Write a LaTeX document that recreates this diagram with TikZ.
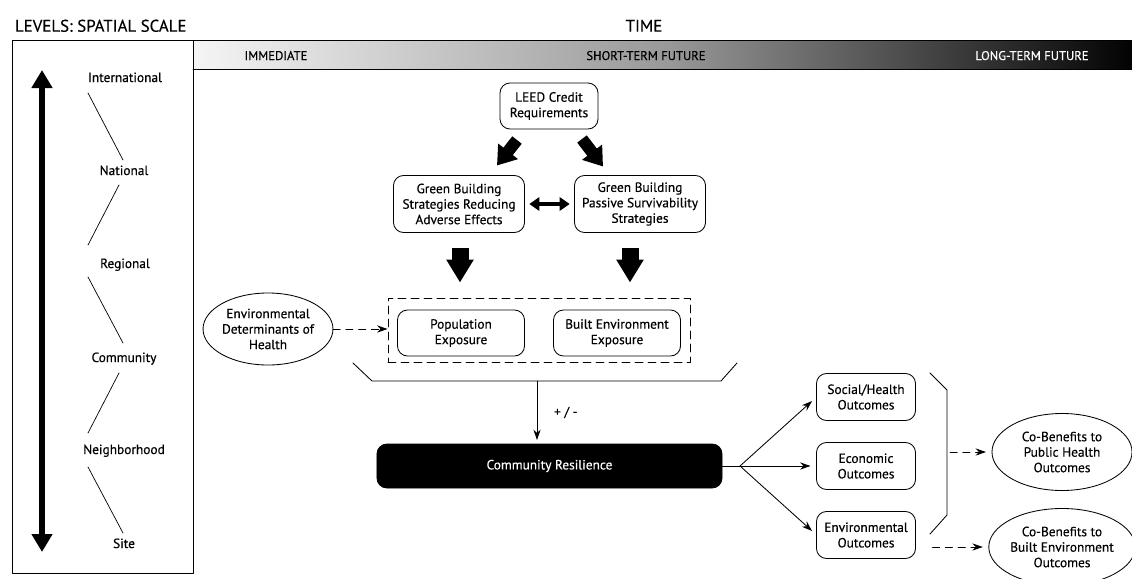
\documentclass[tikz,border=0pt]{standalone}
\usepackage{fontspec}
\setmainfont{PT Sans}[FakeBold=0.35]
\usetikzlibrary{arrows.meta,shapes.geometric,calc,positioning}

\begin{document}
\begin{tikzpicture}[line cap=round,line join=round,x=0.025cm,y=-0.025cm,
		font=\fontsize{9.5}{11}\selectfont,
		box/.style={draw,rounded corners=0.25cm,line width=0.6pt,align=center,inner sep=0pt,outer sep=0pt},
		oval/.style={draw,ellipse,line width=0.6pt,align=center,inner sep=0pt,outer sep=0pt},
		lvl/.style={anchor=base},
		thinarr/.style={line width=0.6pt,-{Stealth[length=0.26cm,width=0.18cm]}},
		dasharr/.style={thinarr,dash pattern=on 0.18cm off 0.14cm},
		fatarr/.style={line cap=butt,line width=0.3cm,-{Triangle[width=0.6cm,length=0.45cm]}},
		downarr/.style={line cap=butt,line width=0.425cm,-{Triangle[width=0.65cm,length=0.575cm]}}]
		\useasboundingbox (0,0) rectangle (1132,579);
		% titles
		\node[anchor=base west,font=\fontsize{12}{14}\selectfont] (levtitle) at (10,31.7) {LEVELS: SPATIAL SCALE};
		\node[anchor=base,font=\fontsize{12}{14}\selectfont] (timetitle) at (644,31.7) {TIME};
		% time bar
		\shade[left color=white!96!black,right color=black,middle color=white!60!black] (193,40) rectangle (1140,69);
		\draw[line width=0.6pt] (193,40) -- (1140,40);
		\draw[line width=0.6pt] (193,69) -- (1140,69);
		\node[anchor=base,font=\fontsize{9}{11}\selectfont] (immed) at (276,60) {IMMEDIATE};
		\node[anchor=base,font=\fontsize{9}{11}\selectfont] (short) at (646,60) {SHORT-TERM FUTURE};
		\node[anchor=base,font=\fontsize{9}{11}\selectfont,text=white] (long) at (1032,60) {LONG-TERM FUTURE};
		% spatial scale panel
		\draw[line width=0.6pt] (12,40) rectangle (193,573);
		\coordinate (scaletop) at (42,70);
		\coordinate (scalebot) at (42,552);
		\draw[line cap=butt,line width=0.125cm,{Triangle[width=0.5cm,length=0.45cm]}-{Triangle[width=0.5cm,length=0.45cm]}] (scaletop) -- (scalebot);
		\node[lvl] (intl) at (125,82) {International};
		\node[lvl] (natl) at (124,175) {National};
		\node[lvl] (regl) at (125,268) {Regional};
		\node[lvl] (comm) at (124,362) {Community};
		\node[lvl] (neigh) at (124,454) {Neighborhood};
		\node[lvl] (site) at (124,548) {Site};
		\draw[line width=0.5pt] ($(intl.base)+(-37,11)$) -- ($(natl.base)+(-1,-15)$);
		\draw[line width=0.5pt] ($(natl.base)+(-5,10)$) -- ($(regl.base)+(-37,-23)$);
		\draw[line width=0.5pt] ($(regl.base)+(-37,9)$) -- ($(comm.base)+(-1,-19)$);
		\draw[line width=0.5pt] ($(comm.base)+(-5,11)$) -- ($(neigh.base)+(-36,-21)$);
		\draw[line width=0.5pt] ($(neigh.base)+(-36,13)$) -- ($(site.base)+(-1,-15)$);
		% strategies
		\node[box,minimum width=2.45cm,minimum height=1.15cm] (leed) at (549,106) {LEED Credit\\Requirements};
		\node[box,minimum width=3.275cm,minimum height=1.425cm] (gbrae) at (459,204) {Green Building\\Strategies Reducing\\Adverse Effects};
		\node[box,minimum width=3.275cm,minimum height=1.425cm] (gbpss) at (640,204) {Green Building\\Passive Survivability\\Strategies};
		\draw[fatarr] ($(leed.south)+(-32,11)$) -- ($(gbrae.north)+(38,-10)$);
		\draw[fatarr] ($(leed.south)+(33,10)$) -- ($(gbpss.north)+(-37,-9)$);
		\draw[line cap=butt,line width=0.1cm,{Triangle[width=0.33cm,length=0.25cm]}-{Triangle[width=0.33cm,length=0.25cm]},shorten <=0.12cm,shorten >=0.12cm] (gbrae) -- (gbpss);
		\draw[downarr] ($(gbrae.south)+(1,15)$) -- ($(gbrae.south)+(1,50)$);
		\draw[downarr] ($(gbpss.south)+(-10,15)$) -- ($(gbpss.south)+(-10,50)$);
		% exposure
		\node[draw,line width=0.6pt,dash pattern=on 0.2cm off 0.125cm,minimum width=7.55cm,minimum height=1.6cm,inner sep=0pt] (expbox) at (539,330) {};
		\node[box,minimum width=3.175cm,minimum height=1.15cm] (popexp) at (461,333) {Population\\Exposure};
		\node[box,minimum width=3.175cm,minimum height=1.15cm] (bltexp) at (617,333) {Built Environment\\Exposure};
		\node[oval,minimum width=3.175cm,minimum height=1.8cm] (envdet) at (268,329) {Environmental\\Determinants of\\Health};
		\draw[dasharr] (envdet.east) -- (envdet.east -| expbox.west);
		\coordinate (brA) at (353,363);
		\coordinate (brB) at (372,381);
		\coordinate (brC) at (721,381);
		\coordinate (brD) at (737,363);
		\coordinate (brmid) at (537,381);
		\draw[line width=0.6pt] (brA) -- (brB) -- (brC) -- (brD); %bracket
		% resilience
		\node[box,fill=black,text=white,minimum width=8.625cm,minimum height=1.1cm] (cr) at (549.5,466) {Community Resilience};
		\draw[thinarr,shorten >=0.1cm] (brmid) -- (brmid |- cr.north) node[midway,right=0.3cm] {+ / -};
		\node[box,minimum width=2.475cm,minimum height=1.175cm] (socout) at (866,397) {Social/Health\\Outcomes};
		\node[box,minimum width=2.475cm,minimum height=1.175cm] (ecoout) at (866,466) {Economic\\Outcomes};
		\node[box,minimum width=2.475cm,minimum height=1.175cm] (envout) at (866,535) {Environmental\\Outcomes};
		\coordinate (fan) at (740,466);
		\draw[line width=0.6pt] (cr.east) -- (fan);
		\draw[thinarr,shorten >=0.15cm] (fan) -- (socout.west);
		\draw[thinarr,shorten >=0.15cm] (fan) -- (ecoout.west);
		\draw[thinarr,shorten >=0.15cm] (fan) -- (envout.west);
		\coordinate (brE) at (930,373);
		\coordinate (brF) at (947,390);
		\coordinate (brG) at (947,515);
		\coordinate (brH) at (930,534);
		\draw[line width=0.6pt] (brE) -- (brF) -- (brG) -- (brH); %bracket
		% co-benefits
		\node[oval,minimum width=3.5cm,minimum height=1.925cm] (cbph) at (1062,452) {Co-Benefits to\\Public Health\\Outcomes};
		\node[oval,minimum width=3.5cm,minimum height=1.925cm] (cbbe) at (1062,547) {Co-Benefits to\\Built Environment\\Outcomes};
		\draw[dasharr,shorten >=0.15cm] (brF |- cbph.west) ++(3,0) -- (cbph.west);
		\draw[dasharr,shorten >=0.15cm] ($(envout.east |- cbbe.west)+(17,0)$) -- (cbbe.west);
\end{tikzpicture}
\end{document}
